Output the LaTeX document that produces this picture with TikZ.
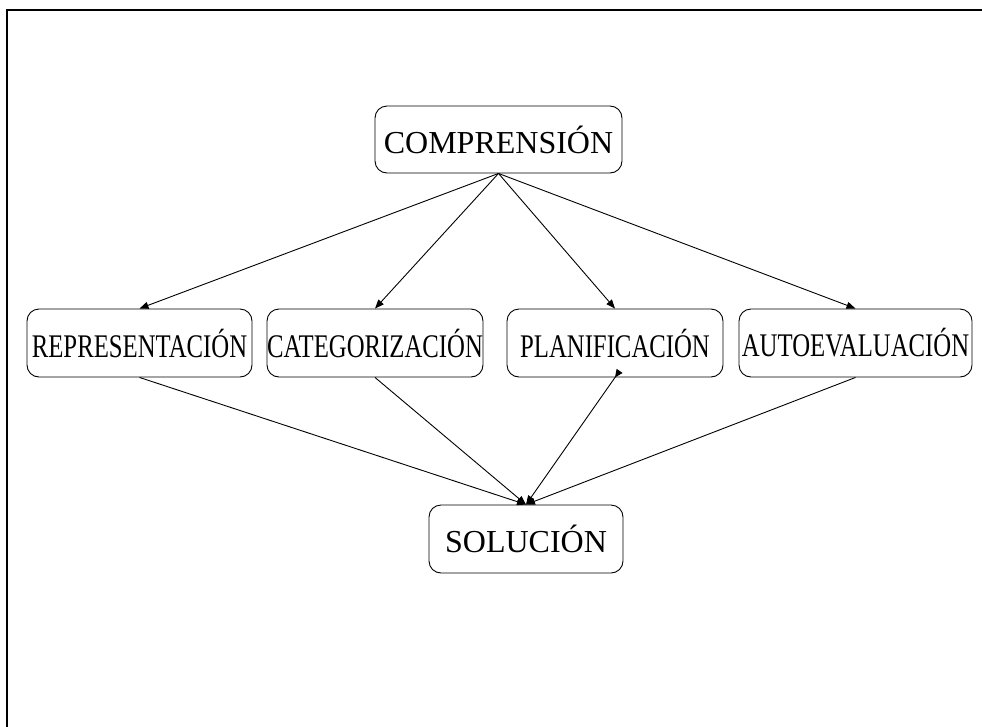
\documentclass[tikz,border=0pt]{standalone}
\usepackage{fontspec}
\setmainfont{Liberation Serif}
\newfontfamily\narrowserif[FakeStretch=0.75]{Liberation Serif}
\usetikzlibrary{arrows.meta, positioning}

\begin{document}
\begin{tikzpicture}[x=1pt, y=-1pt, >={Triangle[length=9pt, width=7pt]},
    box/.style={draw, line width=0.9pt, rounded corners=12pt, inner sep=0pt, minimum height=68pt},
    big/.style={font=\fontsize{32}{36}\selectfont},
    small/.style={font=\narrowserif\fontsize{33}{36}\selectfont},
    conn/.style={line width=0.9pt, ->}]
    \useasboundingbox (0,0) rectangle (982,726);

    % Frame (only top and left edge visible)
    \begin{scope}
        \clip (0,0) rectangle (982,726);
        \draw[line width=1.4pt] (7,10) rectangle (1000,760);
    \end{scope}

    % Top node
    \node[box, big, minimum width=247pt, minimum height=67pt] (comp) at (498.5,139.5) {COMPRENSIÓN};

    % Middle row
    \node[box, small, minimum width=225pt] (rep) at (139.5,343) {REPRESENTACIÓN};
    \node[box, small, minimum width=216pt] (cat) at (375,343) {CATEGORIZACIÓN};
    \node[box, small, minimum width=216pt] (plan) at (615,343) {PLANIFICACIÓN};
    \node[box, small, minimum width=233pt] (auto) at (855.5,343) {AUTOEVALUACIÓN};

    % Bottom node
    \node[box, big, minimum width=194pt] (sol) at (526,539) {SOLUCIÓN};

    % From top to middle row
    \draw[conn] (comp.south) -- (rep.north);
    \draw[conn] (comp.south) -- (cat.north);
    \draw[conn] (comp.south) -- (plan.north);
    \draw[conn] (comp.south) -- (auto.north);

    % From middle row to bottom
    \draw[conn] (rep.south) -- (sol.north);
    \draw[conn] (cat.south) -- (sol.north);
    \draw[conn, {Triangle[reversed, length=8pt, width=7pt]}->, shorten <=-8pt] (plan.south) -- (sol.north);
    \draw[conn] (auto.south) -- (sol.north);
\end{tikzpicture}
\end{document}
